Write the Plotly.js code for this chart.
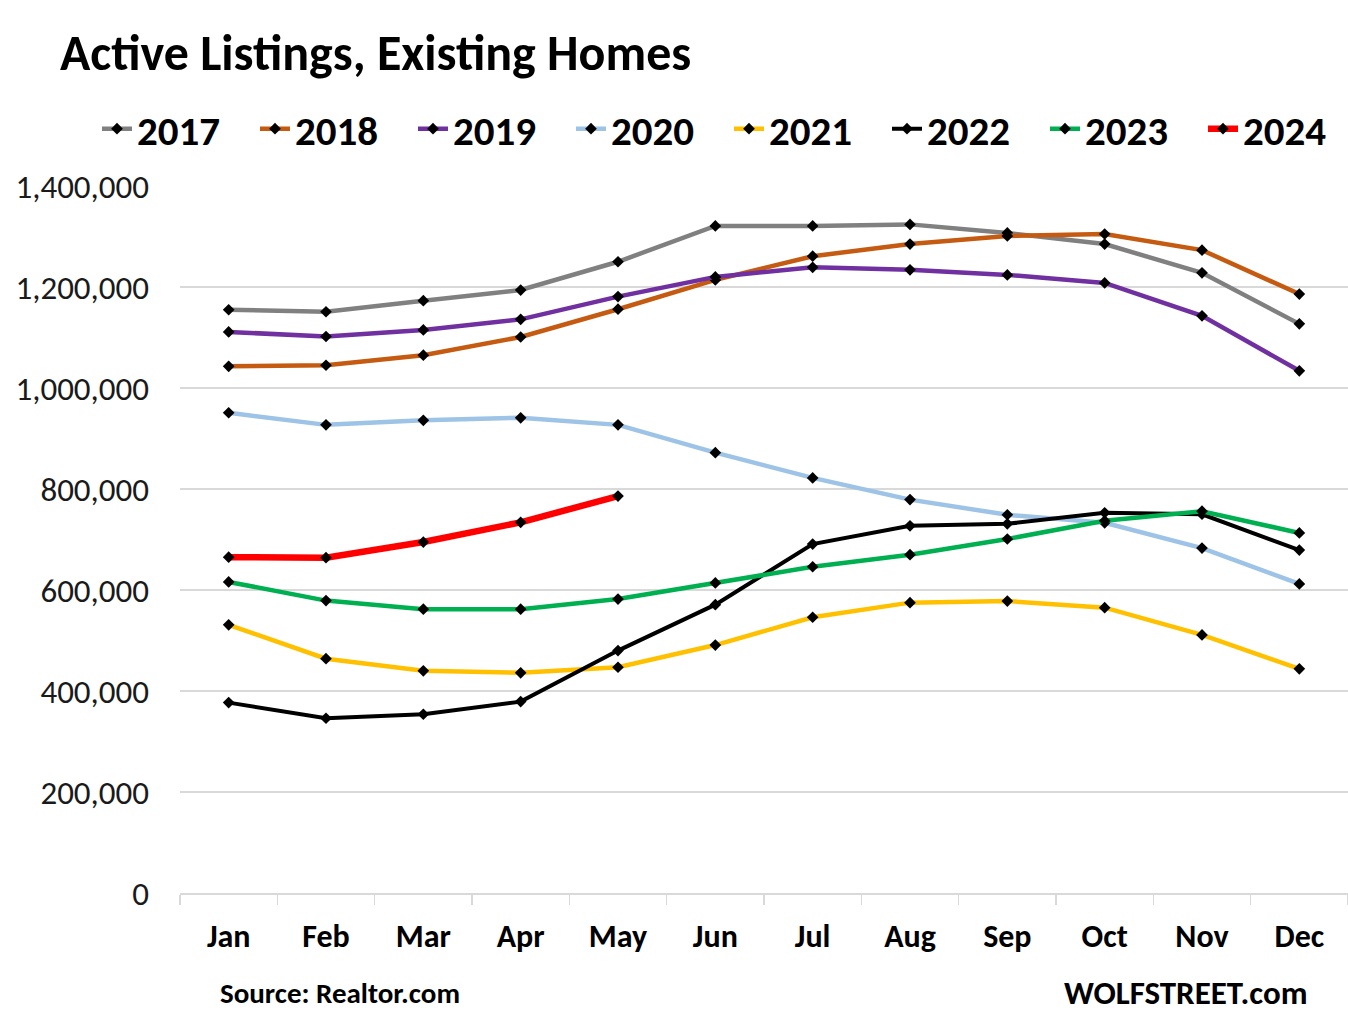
<!DOCTYPE html>
<html>
<head>
<meta charset="utf-8">
<script src="https://cdn.plot.ly/plotly-3.0.1.min.js"></script>
<style>
  html, body { margin: 0; padding: 0; background: #fff; }
  #chart { width: 1348px; height: 1021px; }
</style>
</head>
<body>
<div id="chart"></div>
<script>
const months = ["Jan","Feb","Mar","Apr","May","Jun","Jul","Aug","Sep","Oct","Nov","Dec"];
const y2017 = [1155000,1151000,1173000,1194000,1250000,1321000,1321000,1324000,1307000,1285000,1228000,1127000];
const y2018 = [1043000,1045000,1065000,1101000,1156000,1214000,1261000,1285000,1301000,1305000,1273000,1186000];
const y2019 = [1111000,1102000,1115000,1136000,1181000,1220000,1239000,1234000,1224000,1208000,1143000,1034000];
const y2020 = [951000,927000,936000,941000,927000,872000,822000,779000,749000,733000,683000,612000];
const y2021 = [531000,464000,440000,436000,447000,491000,546000,575000,578000,565000,511000,444000];
const y2022 = [377000,346000,354000,379000,480000,571000,691000,727000,731000,753000,750000,679000];
const y2023 = [616000,579000,562000,562000,582000,614000,646000,670000,701000,737000,756000,713000];
const y2024 = [665000,664000,695000,734000,786000];
const seriesNames = ["2017","2018","2019","2020","2021","2022","2023","2024"];
const seriesData = [y2017,y2018,y2019,y2020,y2021,y2022,y2023,y2024];
const yTickVals = [0,200000,400000,600000,800000,1000000,1200000,1400000];
const yTickText = ["0","200,000","400,000","600,000","800,000","1,000,000","1,200,000","1,400,000"];

const colors = ["#808080","#C55A11","#7030A0","#9DC3E6","#FFC000","#000000","#00B050","#FF0000"];
const widths = [4.5,4.5,4.5,4.5,4.5,4,4.5,6.5];

const FONT = "Carlito, Calibri, 'Liberation Sans Narrow', 'Open Sans', sans-serif";

const legendIds = seriesNames.map((n, i) => i === 0 ? "legend" : "legend" + (i + 1));

const traces = seriesNames.map((n, i) => ({
  type: "scatter",
  mode: "lines+markers",
  name: n,
  legend: legendIds[i],
  x: months.slice(0, seriesData[i].length),
  y: seriesData[i],
  line: { color: colors[i], width: widths[i] },
  marker: { symbol: "diamond", color: "#000", size: 9 },
  hoverinfo: "skip"
}));

const layout = {
  width: 1348,
  height: 1021,
  paper_bgcolor: "#fff",
  plot_bgcolor: "#fff",
  margin: { l: 180, r: 0, t: 186, b: 128 },
  font: { family: FONT, color: "#000" },
  title: {
    text: "<b>Active Listings, Existing Homes</b>",
    font: { family: FONT, size: 50, color: "#000" },
    xref: "container", x: 60/1348, xanchor: "left",
    yref: "container", y: 1 - 52/1021, yanchor: "middle"
  },
  showlegend: true,
  xaxis: {
    type: "category",
    categoryorder: "array",
    categoryarray: months,
    range: [-0.5, 11.5],
    showgrid: false,
    showline: true,
    linecolor: "#D9D9D9",
    linewidth: 2,
    ticks: "outside",
    tickson: "boundaries",
    ticklen: 10,
    tickcolor: "#D9D9D9",
    tickwidth: 1.5,
    tickfont: { family: FONT, size: 32, color: "#000", weight: "bold" },
    ticklabelstandoff: 14,
    fixedrange: true
  },
  yaxis: {
    range: [0, 1400000],
    tickvals: yTickVals,
    ticktext: yTickText,
    showgrid: true,
    gridcolor: "#D9D9D9",
    gridwidth: 2,
    zeroline: false,
    showline: false,
    ticks: "",
    tickfont: { family: FONT, size: 33, color: "#1a1a1a" },
    ticklabelstandoff: 30,
    fixedrange: true
  },
  annotations: [
    { text: "<b>Source: Realtor.com</b>", xref: "paper", yref: "paper",
      x: (218-180)/1168, y: -(993-893)/707, xanchor: "left", yanchor: "middle",
      showarrow: false, font: { family: FONT, size: 29, color: "#000" } },
    { text: "<b>WOLFSTREET.com</b>", xref: "paper", yref: "paper",
      x: (1310-180)/1168, y: -(993-893)/707, xanchor: "right", yanchor: "middle",
      showarrow: false, font: { family: FONT, size: 33, color: "#000" } }
  ]
};

legendIds.forEach((id, i) => {
  layout[id] = {
    orientation: "h",
    xref: "container", x: (97 + i * 158) / 1348, xanchor: "left",
    yref: "container", y: 1 - 129/1021, yanchor: "middle",
    font: { family: FONT, size: 41, color: "#000", weight: "bold" },
    itemwidth: 30,
    bgcolor: "rgba(0,0,0,0)"
  };
});

Plotly.newPlot("chart", traces, layout, { displayModeBar: false, staticPlot: true });
</script>
</body>
</html>
